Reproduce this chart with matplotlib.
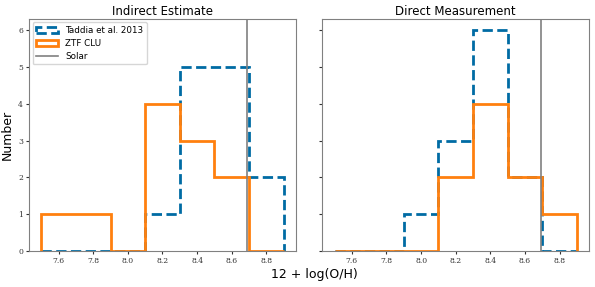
import numpy as np
import matplotlib.pyplot as plt

# bin edges in 12 + log(O/H)
bins = [7.5, 7.7, 7.9, 8.1, 8.3, 8.5, 8.7, 8.9]
centers = [7.6, 7.8, 8.0, 8.2, 8.4, 8.6, 8.8]

# counts per bin
taddia_indirect = [0, 0, 0, 1, 5, 5, 2]
ztf_indirect = [1, 1, 0, 4, 3, 2, 0]
taddia_direct = [0, 0, 1, 3, 6, 2, 0]
ztf_direct = [0, 0, 0, 2, 4, 2, 1]

solar = 8.69
titles = ['Indirect Estimate', 'Direct Measurement']

blue = '#006BA4'
orange = '#FF800E'

fig, axes = plt.subplots(1, 2, figsize=(5.95, 2.87), dpi=100, sharey=True)

panels = [(taddia_indirect, ztf_indirect), (taddia_direct, ztf_direct)]
for ax, (tad, ztf), title in zip(axes, panels, titles):
    ax.hist(centers, bins=bins, weights=tad, histtype='step', color=blue,
            lw=2, ls='--', label='Taddia et al. 2013')
    ax.hist(centers, bins=bins, weights=ztf, histtype='step', color=orange,
            lw=2, label='ZTF CLU')
    ax.axvline(solar, color='gray', lw=1.2, label='Solar')
    ax.set_title(title, fontsize=8.5, pad=3)
    ax.set_xticks([7.6, 7.8, 8.0, 8.2, 8.4, 8.6, 8.8])
    ax.set_yticks(range(7))
    ax.tick_params(labelsize=5.5, length=2.5, pad=2, colors='#333333')
    for lab in ax.get_xticklabels() + ax.get_yticklabels():
        lab.set_family('DejaVu Serif')
    for sp in ax.spines.values():
        sp.set_color('gray')

axes[0].set_ylabel('Number', fontsize=9, labelpad=3)
axes[0].legend(loc='upper left', fontsize=6.3, handlelength=2.5, borderpad=0.4,
               labelspacing=0.45, borderaxespad=0.4)
fig.text(0.528, 0.02, '12 + log(O/H)', fontsize=9, ha='center', va='bottom')

plt.subplots_adjust(left=0.049, right=0.99, top=0.934, bottom=0.125, wspace=0.1)
plt.savefig('out.png')
